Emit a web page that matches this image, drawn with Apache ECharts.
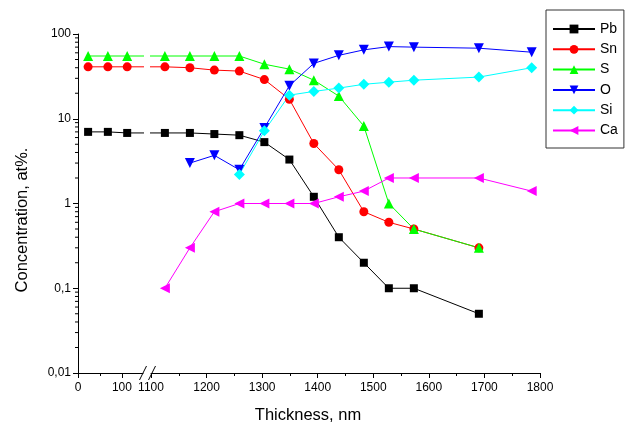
<!DOCTYPE html>
<html>
<head>
<meta charset="utf-8">
<script src="https://cdn.jsdelivr.net/npm/echarts@6/dist/echarts.min.js"></script>
<style>
  html, body { margin: 0; padding: 0; background: #fff; }
  #chart { width: 628px; height: 425px; }
</style>
</head>
<body>
<div id="chart"></div>
<script>
// thickness, nm (left part of the broken axis and right part)
const xLeft = [23, 68, 112];
const xRight = [1125, 1170, 1214, 1259, 1304, 1349, 1393, 1438, 1483, 1528, 1573, 1690, 1785];

// concentration, at%
const pbLeft = [7.0, 7.0, 6.8];
const pbRight = [6.8, 6.8, 6.6, 6.4, 5.3, 3.3, 1.2, 0.4, 0.2, 0.1, 0.1, 0.05, null];
const snLeft = [41, 41, 41];
const snRight = [41, 40, 37.5, 36.5, 29, 17, 5.1, 2.5, 0.8, 0.6, 0.5, 0.3, null];
const sLeft = [55, 55, 55];
const sRight = [55, 55, 55, 55, 44, 38.5, 28.5, 18.5, 8.2, 1.0, 0.5, 0.3, null];
const oRight = [null, 3.0, 3.7, 2.5, 7.8, 24.5, 45, 56, 65, 71, 70, 68, 61];
const siRight = [null, null, null, 2.2, 7.2, 19, 21, 23, 25.5, 27, 28.5, 31, 40];
const caRight = [0.1, 0.3, 0.8, 1, 1, 1, 1, 1.2, 1.4, 2, 2, 2, 1.4];

// axis ticks
const leftTicks = [0, 100];
const leftMinorTicks = [50];
const yMinorTicks = [0.02, 0.03, 0.04, 0.05, 0.06, 0.07, 0.08, 0.09,
  0.2, 0.3, 0.4, 0.5, 0.6, 0.7, 0.8, 0.9,
  2, 3, 4, 5, 6, 7, 8, 9,
  20, 30, 40, 50, 60, 70, 80, 90];

const elements = [
  { name: 'Pb', color: '#000000', symbol: 'rect', size: 8, rotate: 0, left: pbLeft, right: pbRight },
  { name: 'Sn', color: '#ff0000', symbol: 'circle', size: 9, rotate: 0, left: snLeft, right: snRight },
  { name: 'S', color: '#00ff00', symbol: 'triangle', size: 10, rotate: 0, left: sLeft, right: sRight },
  { name: 'O', color: '#0000ff', symbol: 'triangle', size: 10, rotate: 180, left: null, right: oRight },
  { name: 'Si', color: '#00ffff', symbol: 'diamond', size: 11, rotate: 0, left: null, right: siRight },
  { name: 'Ca', color: '#ff00ff', symbol: 'triangle', size: 10, rotate: 90, left: null, right: caRight }
];

function pairs(xs, ys) {
  return xs.map((x, i) => [x, ys[i]]).filter(p => p[1] != null);
}

const font = 'Liberation Sans, Arial, sans-serif';
const axisBlack = { lineStyle: { color: '#000', width: 1 } };

function yFmt(v) {
  return String(+v.toPrecision(6)).replace('.', ',');
}
function xFmt(v) {
  return String(v);
}

const series = [];
elements.forEach(el => {
  const common = {
    name: el.name,
    type: 'line',
    symbol: el.symbol,
    symbolSize: el.size,
    symbolRotate: el.rotate,
    clip: true,
    itemStyle: { color: el.color },
    lineStyle: { color: el.color, width: 1 },
    emphasis: { disabled: true }
  };
  const rightPts = pairs(xRight, el.right);
  if (el.left) {
    const leftPts = pairs(xLeft, el.left);
    // left part, runs on towards the first right point and is clipped at the break
    series.push(Object.assign({}, common, {
      xAxisIndex: 0, yAxisIndex: 0,
      data: leftPts.concat([rightPts[0]])
    }));
    series.push(Object.assign({}, common, {
      xAxisIndex: 1, yAxisIndex: 1,
      data: [leftPts[leftPts.length - 1]].concat(rightPts)
    }));
  } else {
    series.push(Object.assign({}, common, {
      xAxisIndex: 1, yAxisIndex: 1,
      data: rightPts
    }));
  }
});

// log-spaced minor ticks on the y axis
series.push({
  type: 'custom',
  xAxisIndex: 0, yAxisIndex: 0,
  silent: true,
  clip: false,
  data: yMinorTicks.map(v => [0, v]),
  renderItem: function (params, api) {
    const p = api.coord([0, api.value(1)]);
    return {
      type: 'line',
      shape: { x1: p[0] - 3, y1: p[1], x2: p[0], y2: p[1] },
      style: { stroke: '#000', lineWidth: 1 }
    };
  }
});

const chart = echarts.init(document.getElementById('chart'), null, { renderer: 'canvas' });
chart.setOption({
  animation: false,
  backgroundColor: '#fff',
  grid: [
    { left: 78, top: 34, width: 65, height: 339 },
    { left: 151, top: 34, width: 389, height: 339 }
  ],
  xAxis: [
    {
      type: 'value', gridIndex: 0, min: 0, max: 148, position: 'bottom',
      axisLine: axisBlack,
      axisTick: { customValues: leftTicks, length: 5, lineStyle: { color: '#000' } },
      axisLabel: { customValues: leftTicks, color: '#000', fontSize: 12, fontFamily: font, margin: 9, formatter: xFmt },
      splitLine: { show: false }
    },
    {
      type: 'value', gridIndex: 1, min: 1100, max: 1800, interval: 100, position: 'bottom',
      axisLine: axisBlack,
      axisTick: { length: 5, lineStyle: { color: '#000' } },
      minorTick: { show: true, splitNumber: 2, length: 3, lineStyle: { color: '#000' } },
      axisLabel: { color: '#000', fontSize: 12, fontFamily: font, margin: 9, formatter: xFmt },
      splitLine: { show: false }
    },
    {
      type: 'value', gridIndex: 0, min: 0, max: 148, position: 'bottom',
      axisLine: { show: false },
      axisTick: { customValues: leftMinorTicks, length: 3, lineStyle: { color: '#000' } },
      axisLabel: { show: false },
      splitLine: { show: false }
    }
  ],
  yAxis: [
    {
      type: 'log', gridIndex: 0, min: 0.01, max: 100, logBase: 10, position: 'left',
      axisLine: axisBlack,
      axisTick: { length: 5, lineStyle: { color: '#000' } },
      axisLabel: { color: '#000', fontSize: 12, fontFamily: font, margin: 7, formatter: yFmt },
      splitLine: { show: false }
    },
    {
      type: 'log', gridIndex: 1, min: 0.01, max: 100, logBase: 10,
      show: false
    }
  ],
  legend: {
    orient: 'vertical',
    left: 546, top: 10,
    data: elements.map(e => e.name),
    itemWidth: 42, itemHeight: 11, itemGap: 4.3,
    padding: [11, 6, 9.5, 6],
    borderColor: '#333', borderWidth: 1, borderRadius: 0,
    textStyle: { color: '#000', fontSize: 14, fontFamily: font, lineHeight: 16 },
    selectedMode: false
  },
  graphic: [
    { type: 'line', shape: { x1: 139.5, y1: 380, x2: 146.5, y2: 366 }, style: { stroke: '#000', lineWidth: 1 } },
    { type: 'line', shape: { x1: 148.5, y1: 380, x2: 155.5, y2: 366 }, style: { stroke: '#000', lineWidth: 1 } },
    { type: 'text', x: 308, y: 415, style: { text: 'Thickness, nm', font: '16.5px ' + font, fill: '#000', align: 'center', verticalAlign: 'middle' } },
    { type: 'text', x: 22, y: 220, rotation: Math.PI / 2, style: { text: 'Concentration, at%.', font: '16.5px ' + font, fill: '#000', align: 'center', verticalAlign: 'middle' } }
  ],
  series: series
});
</script>
</body>
</html>
